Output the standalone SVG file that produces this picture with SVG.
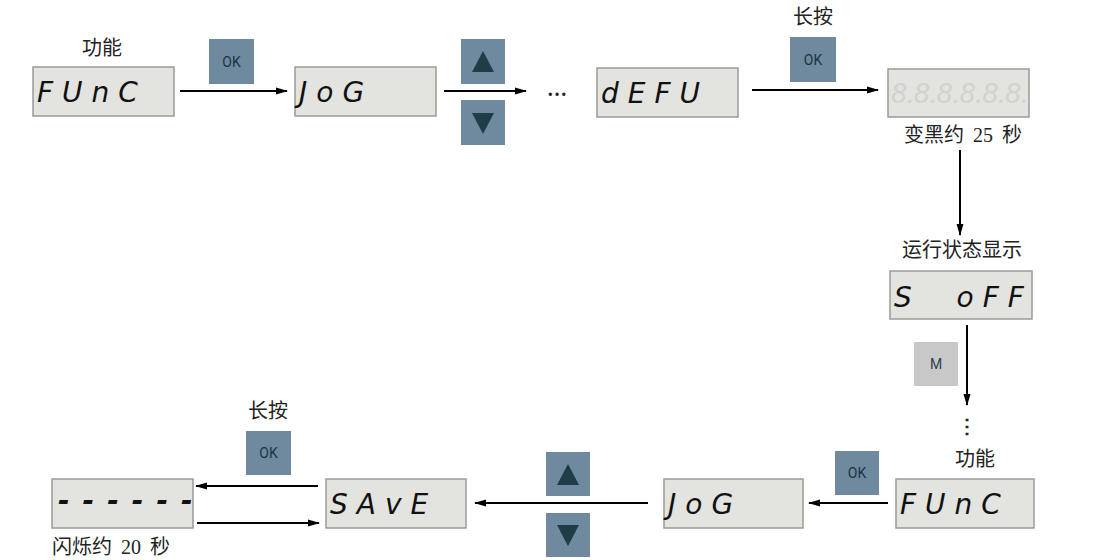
<svg xmlns="http://www.w3.org/2000/svg" width="1120" height="560" viewBox="0 0 1120 560">
<style>
.disp{fill:#e3e3df;stroke:#9a9a98;stroke-width:1.5}
.seg{font-family:"DejaVu Sans",sans-serif;font-style:italic;font-size:28px;fill:#111;letter-spacing:9px}
.ghost{font-family:"DejaVu Sans",sans-serif;font-style:italic;font-size:26px;fill:#d2d2ce;letter-spacing:-1px}
.btn{fill:#6f899e}
.btnm{fill:#c8c8c8}
.bt{font-family:"Roboto","Liberation Sans",Arial,sans-serif;font-size:14px;fill:#1c3444;text-anchor:middle}
.tri{fill:#1e3d47}
.lbl{font-family:"Liberation Serif","Noto Sans CJK SC",serif;font-size:20px;fill:#222}
.conn{stroke:#000;stroke-width:2;fill:none}
</style>
<defs>
<marker id="ah" viewBox="0 0 12 10" refX="11" refY="5" markerWidth="7" markerHeight="5" orient="auto" markerUnits="strokeWidth">
<path d="M0,1.5 L12,5 L0,8.5 Z" fill="#000"/>
</marker>
</defs>
<rect width="1120" height="560" fill="#fff"/>

<g id="connectors">
<line class="conn" x1="180" y1="91" x2="287" y2="91" marker-end="url(#ah)"/>
<line class="conn" x1="444" y1="91" x2="526" y2="91" marker-end="url(#ah)"/>
<line class="conn" x1="752" y1="90" x2="878" y2="90" marker-end="url(#ah)"/>
<line class="conn" x1="960" y1="150" x2="960" y2="235" marker-end="url(#ah)"/>
<line class="conn" x1="967" y1="325" x2="967" y2="405" marker-end="url(#ah)"/>
<line class="conn" x1="888" y1="503" x2="809" y2="503" marker-end="url(#ah)"/>
<line class="conn" x1="648" y1="503" x2="475" y2="503" marker-end="url(#ah)"/>
<line class="conn" x1="318" y1="486" x2="196" y2="486" marker-end="url(#ah)"/>
<line class="conn" x1="197" y1="523" x2="319" y2="523" marker-end="url(#ah)"/>
</g>

<g id="label-func-top"><text class="lbl" x="102" y="55" text-anchor="middle">功能</text></g>
<g id="disp-func-top"><rect class="disp" x="33" y="67" width="141" height="49"/><text class="seg" x="37" y="102">FUnC</text></g>
<g id="btn-ok-1"><rect class="btn" x="209" y="39" width="45" height="45"/><text class="bt" x="231.5" y="67">OK</text></g>
<g id="disp-jog-top"><rect class="disp" x="295" y="67" width="141" height="49"/><text class="seg" x="299" y="102">JoG</text></g>
<g id="btn-up-1"><rect class="btn" x="461" y="39" width="44" height="45"/><path class="tri" d="M483,51 L494,72 L472,72 Z"/></g>
<g id="btn-down-1"><rect class="btn" x="461" y="100" width="44" height="45"/><path class="tri" d="M472,113 L494,113 L483,134 Z"/></g>
<g id="ellipsis-top"><text class="lbl" x="557" y="96" text-anchor="middle" font-size="16" font-weight="bold">…</text></g>
<g id="disp-defu"><rect class="disp" x="597" y="68" width="141" height="49"/><text class="seg" x="601" y="103">dEFU</text></g>
<g id="label-long-1"><text class="lbl" x="813" y="24" text-anchor="middle">长按</text></g>
<g id="btn-ok-2"><rect class="btn" x="790" y="37" width="46" height="45"/><text class="bt" x="813" y="65">OK</text></g>
<g id="disp-blank"><rect class="disp" x="888" y="69" width="141" height="48"/><text class="ghost" x="891" y="103">8.8.8.8.8.8.</text></g>
<g id="label-dark"><text class="lbl" x="963" y="142" text-anchor="middle" word-spacing="4">变黑约 25 秒</text></g>
<g id="label-run"><text class="lbl" x="962" y="257" text-anchor="middle">运行状态显示</text></g>
<g id="disp-soff"><rect class="disp" x="890" y="271" width="142" height="48"/><text class="seg" x="894" y="307" xml:space="preserve">S  oFF</text></g>
<g id="btn-m"><rect class="btnm" x="914" y="342" width="44" height="44"/><text class="bt" x="936" y="369" style="fill:#2f4050">M</text></g>
<g id="ellipsis-v"><text class="lbl" x="967" y="433" text-anchor="middle" font-size="18" font-weight="bold">⋮</text></g>
<g id="label-func-bot"><text class="lbl" x="975" y="466" text-anchor="middle">功能</text></g>
<g id="disp-func-bot"><rect class="disp" x="896" y="479" width="138" height="49"/><text class="seg" x="900" y="514">FUnC</text></g>
<g id="btn-ok-3"><rect class="btn" x="835" y="451" width="44" height="44"/><text class="bt" x="857" y="478">OK</text></g>
<g id="disp-jog-bot"><rect class="disp" x="664" y="479" width="139" height="49"/><text class="seg" x="668" y="514">JoG</text></g>
<g id="btn-up-2"><rect class="btn" x="546" y="452" width="44" height="44"/><path class="tri" d="M568,464 L579,485 L557,485 Z"/></g>
<g id="btn-down-2"><rect class="btn" x="546" y="513" width="44" height="44"/><path class="tri" d="M557,525 L579,525 L568,546 Z"/></g>
<g id="disp-save"><rect class="disp" x="326" y="479" width="140" height="49"/><text class="seg" x="330" y="514">SAvE</text></g>
<g id="label-long-2"><text class="lbl" x="268" y="418" text-anchor="middle">长按</text></g>
<g id="btn-ok-4"><rect class="btn" x="246" y="431" width="45" height="44"/><text class="bt" x="268.5" y="458">OK</text></g>
<g id="disp-dash"><rect class="disp" x="52" y="479" width="141" height="49"/><text class="seg" x="58" y="510" font-weight="bold" style="letter-spacing:13px">------</text></g>
<g id="label-flash"><text class="lbl" x="52" y="554" word-spacing="4">闪烁约 20 秒</text></g>
</svg>
